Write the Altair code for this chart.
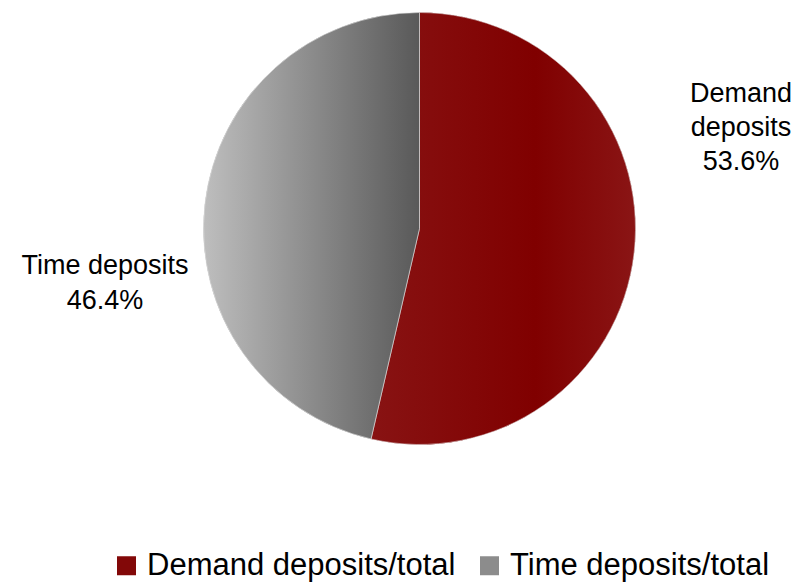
import altair as alt
import pandas as pd
import math

categories = ["Demand deposits", "Time deposits"]
label_names = ["Demand\ndeposits", "Time deposits"]
legend_labels = ["Demand deposits/total", "Time deposits/total"]
shares = [53.6, 46.4]
order = [0, 1]

df = pd.DataFrame({
    "category": categories,
    "name": label_names,
    "legend": legend_labels,
    "share": shares,
    "order": order,
})

red_grad = alt.LinearGradient(
    gradient="linear", x1=0, x2=1, y1=0, y2=0,
    stops=[
        alt.GradientStop(color="#881313", offset=0),
        alt.GradientStop(color="#800000", offset=0.62),
        alt.GradientStop(color="#8A1515", offset=1),
    ],
)
grey_grad = alt.LinearGradient(
    gradient="linear", x1=0, x2=1, y1=0, y2=0,
    stops=[
        alt.GradientStop(color="#BEBEBE", offset=0),
        alt.GradientStop(color="#595959", offset=1),
    ],
)

theta_scale = alt.Scale(domain=[0, 100], range=[0, 2 * math.pi])
CX, CY, R = 411.5, 220.5, 216

base = alt.Chart(df).transform_window(
    cum="sum(share)", sort=[alt.SortField("order")], frame=[None, 0]
).transform_calculate(
    start="datum.cum - datum.share",
    mid="datum.cum - datum.share / 2",
    label="datum.name + '\\n' + format(datum.share, '.1f') + '%'",
)

legend_layer = base.mark_arc(stroke=None).encode(
    theta=alt.Theta("start:Q", scale=theta_scale),
    theta2="cum:Q",
    x=alt.value(CX), y=alt.value(CY), radius=alt.value(R),
    color=alt.Color(
        "legend:N",
        scale=alt.Scale(domain=legend_labels, range=["#820808", "#8C8C8C"]),
        legend=alt.Legend(
            title=None, orient="none", legendX=103, legendY=542,
            direction="horizontal", symbolType="square", symbolSize=361,
            symbolStrokeWidth=0, symbolOpacity=1, labelFontSize=31,
            labelFont="Liberation Sans", labelColor="black", labelOffset=5,
            columnPadding=18, labelLimit=500, padding=0,
        ),
    ),
)

demand_arc = base.transform_filter("datum.order == 0").mark_arc(
    fill=red_grad, stroke="#E6E6E6", strokeWidth=0.6
).encode(
    theta=alt.Theta("start:Q", scale=theta_scale), theta2="cum:Q",
    x=alt.value(CX), y=alt.value(CY), radius=alt.value(R),
)
time_arc = base.transform_filter("datum.order == 1").mark_arc(
    fill=grey_grad, stroke="#E6E6E6", strokeWidth=0.6
).encode(
    theta=alt.Theta("start:Q", scale=theta_scale), theta2="cum:Q",
    x=alt.value(CX), y=alt.value(CY), radius=alt.value(R),
)

text_style = dict(font="Liberation Sans", fontSize=27, lineBreak="\n",
                  align="center", baseline="middle", color="black")

demand_text = base.transform_filter("datum.order == 0").mark_text(
    radius=322, dx=1.6, dy=-171, lineHeight=34, **text_style
).encode(
    theta=alt.Theta("mid:Q", scale=theta_scale),
    x=alt.value(CX), y=alt.value(CY),
    text="label:N",
)
time_text = base.transform_filter("datum.order == 1").mark_text(
    radius=315, dx=-1.5, dy=73, lineHeight=35, **text_style
).encode(
    theta=alt.Theta("mid:Q", scale=theta_scale),
    x=alt.value(CX), y=alt.value(CY),
    text="label:N",
)

chart = alt.layer(legend_layer, demand_arc, time_arc, demand_text, time_text).properties(
    width=784, height=575, padding=0, background="white",
    autosize=alt.AutoSizeParams(type="none"),
).configure_view(stroke=None)

chart.save("out.html", embed_options={"renderer": "svg", "actions": False})
